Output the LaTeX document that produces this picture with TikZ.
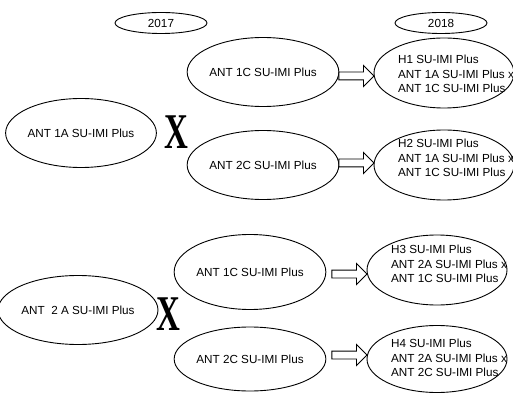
\documentclass[tikz,border=0pt]{standalone}
\usepackage{fontspec}
\setmainfont{Liberation Sans}
\newfontfamily\crossfont{Liberation Serif}
\usetikzlibrary{shapes.geometric,shapes.arrows,calc}

\begin{document}
\begin{tikzpicture}[x=1pt,y=-1pt,line width=0.9pt,
    font=\fontsize{11.7}{14.5}\selectfont,
    every node/.style={inner sep=0pt},
    yearbox/.style={ellipse,draw,minimum width=92pt,minimum height=21pt},
    plant/.style={ellipse,draw,minimum width=142pt,minimum height=69pt},
    hybrid/.style={ellipse,draw,minimum width=140pt,minimum height=70pt},
    htext/.style={align=left},
    cross/.style={font=\crossfont\bfseries\fontsize{50}{50}\selectfont,xscale=0.66},
    blockarr/.style={single arrow,draw,fill=white,minimum height=35pt,minimum width=20pt,
        single arrow head extend=6.5pt,single arrow tip angle=90}]
            \useasboundingbox (0,0) rectangle (513,403);

            % years
            \node[yearbox]  (y2017) at (161,23)  {2017};
            \node[yearbox]  (y2018) at (441,23)  {2018};

            % first cross
            \node[plant]    (p1a) at (81,133)  {ANT 1A SU-IMI Plus};
            \node[cross]    (x1)  at (176,132) {X};
            \node[plant]    (c1a) at (263,72)  {ANT 1C SU-IMI Plus};
            \node[plant]    (c1b) at (263,165) {ANT 2C SU-IMI Plus};
            \node[hybrid]   (h1)  at (444,73)  {};
            \node[hybrid]   (h2)  at (444,165) {};
            \node[htext]    (h1t) at ($(h1)+(12,1)$)  {H1 SU-IMI Plus\\ANT 1A SU-IMI Plus x\\ANT 1C SU-IMI Plus};
            \node[htext]    (h2t) at ($(h2)+(12,-7)$) {H2 SU-IMI Plus\\ANT 1A SU-IMI Plus x\\ANT 1C SU-IMI Plus};

            % second cross
            \node[plant]    (p2a) at (78,310)  {ANT\ \ 2 A SU-IMI Plus};
            \node[cross]    (x2)  at (168,314) {X};
            \node[plant, minimum width=134pt, minimum height=75pt] (c2a) at (250,272) {ANT 1C SU-IMI Plus};
            \node[plant, minimum width=134pt, minimum height=64pt] (c2b) at (250,359) {ANT 2C SU-IMI Plus};
            \node[hybrid]   (h3)  at (437,270) {};
            \node[hybrid, minimum height=67pt] (h4) at (437,359) {};
            \node[htext]    (h3t) at ($(h3)+(12,-6)$) {H3 SU-IMI Plus\\ANT 2A SU-IMI Plus x\\ANT 1C SU-IMI Plus};
            \node[htext]    (h4t) at ($(h4)+(12,-1)$) {H4 SU-IMI Plus\\ANT 2A SU-IMI Plus x\\ANT 2C SU-IMI Plus};

            % arrows into the hybrids
            \node[blockarr, anchor=tip] (a1) at ($(h1.west)+(1,3)$)  {\rule{0pt}{7pt}};
            \node[blockarr, anchor=tip] (a2) at ($(h2.west)+(1,-2)$) {\rule{0pt}{7pt}};
            \node[blockarr, anchor=tip] (a3) at ($(h3.west)+(1,4)$)  {\rule{0pt}{7pt}};
            \node[blockarr, anchor=tip] (a4) at ($(h4.west)+(1,-4)$) {\rule{0pt}{7pt}};
        \end{tikzpicture}
\end{document}
